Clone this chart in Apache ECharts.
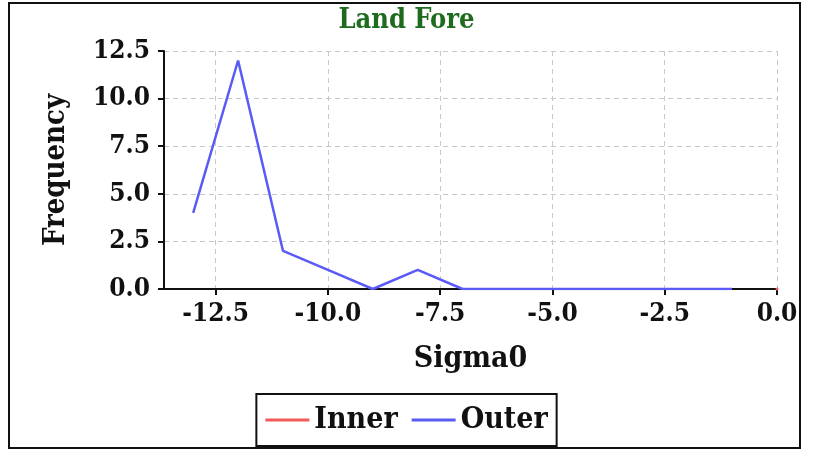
<!DOCTYPE html>
<html><head><meta charset="utf-8">
<script src="https://cdn.jsdelivr.net/npm/echarts@6/dist/echarts.min.js"></script>
<style>html,body{margin:0;padding:0;background:#fff}#c{width:813px;height:450px}</style>
</head><body><div id="c"></div>
<script>
var sigma0 = [-13, -12, -11, -10, -9, -8, -7, -6, -5, -4, -3, -2, -1];
var outerFreq = [4, 12, 2, 1, 0, 1, 0, 0, 0, 0, 0, 0, 0];
var innerSigma0 = [0];
var innerFreq = [0];
var xTicks = [-12.5, -10, -7.5, -5, -2.5, 0];
var yTicks = [0, 2.5, 5, 7.5, 10, 12.5];

var FONT = '"DejaVu Serif Condensed", "DejaVu Serif", serif';
var chart = echarts.init(document.getElementById('c'));
chart.setOption({
  animation: false,
  backgroundColor: '#fff',
  title: {text: 'Land Fore', left: 'center', top: 2,
    textStyle: {fontFamily: FONT, fontWeight: 'bold', fontSize: 27, color: '#1e6b1e'}},
  graphic: [{type: 'rect', shape: {x: 9, y: 3, width: 791, height: 445},
    style: {fill: 'none', stroke: '#111', lineWidth: 2}, z: 100}],
  legend: {bottom: 4, left: 'center', itemWidth: 44, itemHeight: 3, itemGap: 14,
    borderColor: '#111', borderWidth: 2, padding: [11, 9, 11, 9],
    textStyle: {fontFamily: FONT, fontWeight: 'bold', fontSize: 30, color: '#111'},
    data: [{name: 'Inner', icon: 'rect'}, {name: 'Outer', icon: 'rect'}]},
  grid: {left: 164, right: 36, top: 51, bottom: 161},
  xAxis: {type: 'value', min: -13.65, max: 0,
    name: 'Sigma0', nameLocation: 'middle', nameGap: 55,
    nameTextStyle: {fontFamily: FONT, fontWeight: 'bold', fontSize: 30, color: '#111'},
    axisLine: {show: true, onZero: false, lineStyle: {color: '#111', width: 2}},
    axisTick: {show: true, customValues: xTicks, length: 6, lineStyle: {color: '#111', width: 2}},
    axisLabel: {customValues: xTicks, fontFamily: FONT, fontWeight: 'bold', fontSize: 26, color: '#111', margin: 12,
      formatter: function (v) { return v.toFixed(1); }},
    splitLine: {show: true, lineStyle: {color: '#c8c8c8', type: [5, 4], width: 1}}},
  yAxis: {type: 'value', min: 0, max: 12.5, interval: 2.5,
    name: 'Frequency', nameLocation: 'middle', nameGap: 93, nameRotate: 90,
    nameTextStyle: {fontFamily: FONT, fontWeight: 'bold', fontSize: 29, color: '#111'},
    axisLine: {show: true, onZero: false, lineStyle: {color: '#111', width: 2}},
    axisTick: {show: true, length: 6, lineStyle: {color: '#111', width: 2}},
    axisLabel: {fontFamily: FONT, fontWeight: 'bold', fontSize: 26, color: '#111', margin: 14,
      formatter: function (v) { return v.toFixed(1); }},
    splitLine: {show: true, lineStyle: {color: '#c8c8c8', type: [5, 4], width: 1}}},
  series: [
    {name: 'Inner', type: 'line', color: '#f55a5a', symbol: 'circle', symbolSize: 3,
      data: innerSigma0.map(function (x, i) { return [x, innerFreq[i]]; }),
      lineStyle: {width: 2}},
    {name: 'Outer', type: 'line', color: '#5a5af5', showSymbol: false,
      data: sigma0.map(function (x, i) { return [x, outerFreq[i]]; }),
      lineStyle: {width: 2.5}}
  ]
});
</script></body></html>
